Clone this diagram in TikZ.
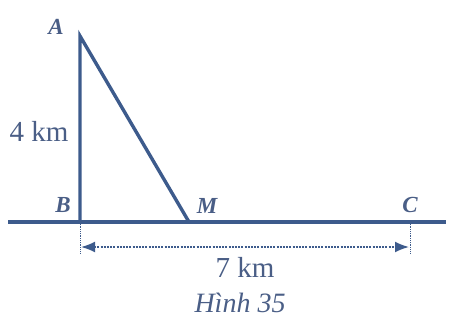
\documentclass[tikz,border=0pt]{standalone}
\usepackage{fontspec}
\setmainfont{Liberation Serif}
\usetikzlibrary{arrows.meta}
\definecolor{geo}{HTML}{3D5B8C}
\definecolor{lbl}{HTML}{4A5E86}
\tikzset{
  main/.style={draw=geo, line width=3.4pt},
  guide/.style={draw=geo, line width=0.8pt, densely dotted},
  dim/.style={draw=geo, line width=1.8pt, dash pattern=on 2pt off 1.2pt, {Latex[length=14pt,width=11pt]}-{Latex[length=14pt,width=11pt]}},
  lab/.style={text=lbl, font=\fontsize{23}{26}\selectfont\itshape\bfseries, inner sep=0pt},
  txt/.style={text=lbl, font=\fontsize{29}{32}\selectfont, inner sep=0pt},
}
\begin{document}
\begin{tikzpicture}[x=1pt,y=-1pt]
\useasboundingbox (0,0) rectangle (452,324);
\coordinate (A) at (80,36);
\coordinate (B) at (80,222);
\coordinate (M) at (189,222);
\coordinate (C) at (410,222);
\coordinate (L) at (8,222);
\coordinate (R) at (446,222);
\coordinate (Bd) at (80,254);
\coordinate (Cd) at (410,254);
\coordinate (Ba) at (81,247);
\coordinate (Ca) at (409,247);
\draw[main] (L) -- (R);
\draw[main, line join=miter] (B) -- (A) -- (M);
\draw[guide] (B) -- (Bd);
\draw[guide] (C) -- (Cd);
\draw[dim] (Ba) -- (Ca);
\node[lab] (tA) at (56,27) {A};
\node[lab] (tB) at (63,205) {B};
\node[lab] (tM) at (207,206) {M};
\node[lab] (tC) at (410,205) {C};
\node[txt] (t4) at (39,131) {4 km};
\node[txt] (t7) at (245,267) {7 km};
\node[txt, font=\fontsize{28}{30}\selectfont\itshape] (cap) at (240,303) {Hình 35};
\end{tikzpicture}
\end{document}
